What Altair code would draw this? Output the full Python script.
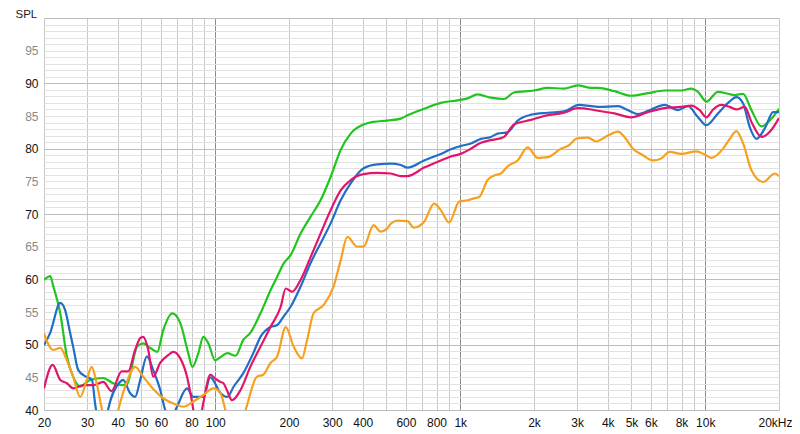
import altair as alt
import pandas as pd

# ---- data ----
green_f = [20, 21.2, 21.8, 23.3, 24.8, 26.3, 28.1, 30.8, 34.9, 38.3, 42.1, 43.7, 48, 50.8, 54.3, 58,
           61.3, 66.8, 72, 77.6, 80.6, 85.3, 89.4, 93.7, 100, 105, 112, 121, 130, 139, 153, 168, 179,
           190, 203, 223, 245, 269, 296, 325, 357, 403, 443, 504, 572, 609, 712, 833, 975, 1071, 1177,
           1334, 1508, 1657, 2000, 2276, 2652, 3018, 3422, 3644, 4260, 4985, 5834, 6824, 7984, 8772,
           9344, 10104, 11278, 12398, 13192, 14278, 15436, 16958, 18634, 20000]
green_v = [59.9, 60.5, 59.0, 54.8, 48.2, 45.1, 43.6, 44.6, 44.9, 44.1, 43.8, 44.0, 49.7, 50.2, 49.5, 48.9,
           52.2, 54.8, 53.3, 48.7, 46.6, 48.7, 51.2, 50.2, 47.6, 48.1, 48.7, 48.3, 50.7, 51.8, 54.8, 58.3, 60.4,
           62.4, 63.7, 67.0, 69.6, 72.1, 75.7, 79.8, 82.3, 83.7, 84.1, 84.3, 84.6, 85.1, 86.1, 87.0, 87.4, 87.7, 88.3,
           87.8, 87.6, 88.6, 88.9, 89.3, 89.2, 89.7, 89.3, 89.3, 88.8, 88.1, 88.5, 88.9, 88.9, 89.2,
           88.7, 87.2, 88.7, 88.4, 88.2, 88.4, 85.9, 83.4, 84.6, 86.1]

blue_f = [20, 21.2, 23.3, 24.4, 25.5, 26.3, 27.6, 29.4, 31.4, 32.3, 33.3, 35, 36.5, 40.9, 42.1, 44.9, 47.1,
          49.4, 52.6, 55.8, 59.6, 62.5, 65.5, 69.8, 76.7, 81.4, 89.4, 95.5, 105, 112, 119, 130, 143, 153,
          168, 179, 190, 203, 223, 245, 269, 296, 325, 357, 403, 459, 520, 572, 609, 712, 833, 915, 1005,
          1105, 1214, 1334, 1421, 1561, 1715, 1944, 2276, 2652, 3055, 3422, 3644, 4398, 4832, 5310, 6020,
          6824, 7740, 8504, 9344, 10104, 11278, 12398, 13406, 14278, 15192, 16182, 17494, 18936, 20000]
blue_v = [49.9, 51.8, 56.4, 55.3, 52.0, 49.7, 46.1, 45.2, 44.6, 41.1, 38.0, 36.0, 40.0, 44.3, 44.6, 42.6, 42.0,
          44.6, 48.2, 46.1, 43.1, 40.0, 38.5, 40.5, 43.3, 42.0, 42.0, 45.0, 42.6, 42.0, 43.6, 45.6, 48.7, 51.2,
          52.7, 53.0, 54.3, 55.8, 58.9, 62.5, 65.5, 68.6, 72.1, 74.7, 77.0, 77.6, 77.7, 77.5, 77.1, 78.2, 79.2, 79.9, 80.4,
          80.8, 81.5, 81.8, 82.3, 82.5, 84.3, 85.2, 85.5, 85.7, 86.7, 86.5, 86.4, 86.5, 85.9, 85.3, 86.0,
          86.7, 85.9, 86.5, 84.8, 83.6, 85.4, 87.0, 87.9, 86.9, 83.3, 81.5, 83.1, 85.6, 85.6]

red_f = [20, 21.7, 23.3, 24.8, 26.3, 29.0, 31.8, 34.9, 37.7, 41.5, 44.1, 47.1, 49.4, 50.8, 53.3, 55.8, 59.6,
         64.3, 67.4, 72, 76.7, 80.2, 82.9, 86, 89.4, 95.5, 100, 105, 108, 112, 117, 127, 139, 153, 168, 185,
         194, 206, 223, 245, 269, 296, 325, 357, 403, 459, 520, 572, 609, 712, 833, 915, 1005, 1105, 1214,
         1334, 1508, 1657, 1944, 2198, 2652, 3018, 3422, 3644, 4260, 4985, 5834, 6824, 7984, 8772, 9488,
         10104, 10764, 11640, 12586, 13406, 14492, 15436, 16958, 18340, 20000]
red_v = [43.3, 46.9, 44.6, 44.1, 43.3, 43.8, 43.8, 44.3, 42.9, 45.9, 45.9, 49.2, 51.0, 51.2, 49.2, 45.1, 47.2,
         48.4, 48.9, 47.9, 45.1, 41.5, 38.5, 38.0, 41.1, 45.4, 44.8, 44.3, 44.1, 42.9, 41.5, 43.1, 46.6, 49.7, 52.7, 55.8,
         58.6, 58.1, 59.9, 63.4, 67.0, 70.6, 73.6, 75.2, 76.1, 76.3, 76.2, 75.8, 75.8, 77.1, 78.2, 78.8, 79.2, 80.0, 80.9,
         81.3, 81.8, 83.7, 84.4, 85.0, 85.5, 86.2, 86.0, 85.8, 85.4, 84.8, 85.6, 86.2, 86.4, 86.6, 85.9,
         84.8, 86.0, 86.7, 86.4, 86.0, 86.4, 84.1, 81.8, 82.6, 84.7]

orange_f = [20, 21.8, 23.3, 24.8, 26.3, 28.1, 29.9, 31.3, 32.8, 34.5, 36, 39, 40.2, 43.4, 47.1, 50.8, 56.2,
            61.3, 67.4, 74, 81.4, 89.4, 98.2, 105, 110, 115, 125, 133, 148, 157, 168, 179, 194, 209, 226,
            237, 252, 277, 304, 325, 346, 380, 403, 443, 473, 504, 520, 554, 609, 646, 712, 782, 833, 901,
            990, 1071, 1140, 1195, 1293, 1376, 1466, 1561, 1715, 1885, 2070, 2276, 2578, 2746, 3018, 3316,
            3586, 4004, 4398, 4680, 5066, 5566, 6118, 6614, 7152, 7984, 9196, 9944, 10592, 11828, 12586,
            13406, 14278, 15436, 17232, 19222, 20000]
orange_v = [51.7, 49.2, 49.5, 47.6, 45.1, 42.0, 44.6, 46.6, 44.1, 40.0, 37.0, 38.0, 40.0, 44.1, 46.6, 45.1, 43.1,
            41.8, 41.0, 40.5, 41.3, 42.3, 43.3, 42.6, 40.0, 37.5, 37.0, 40.0, 45.1, 45.4, 47.2, 48.2, 52.7, 49.7, 47.9,
            50.7, 54.8, 56.1, 58.9, 62.9, 66.5, 65.0, 65.0, 68.3, 67.3, 67.8, 68.5, 69.0, 68.9, 67.9, 68.8, 71.6, 70.6, 68.7,
            71.9, 72.1, 72.4, 72.6, 75.2, 75.9, 76.2, 77.3, 78.2, 80.2, 78.6, 78.7, 80.0, 80.4, 81.6, 81.7,
            81.1, 82.0, 82.6, 81.8, 80.0, 79.0, 78.2, 78.5, 79.5, 79.2, 79.6, 79.1, 78.6, 80.0, 81.5,
            82.7, 80.8, 76.7, 74.9, 76.2, 75.8]

series = ["green", "blue", "red", "orange"]
colors = ["#22c41f", "#1f6fc6", "#e3156b", "#f6a11e"]

x_grid = [20, 30, 40, 50, 60, 70, 80, 90, 100, 200, 300, 400, 500, 600, 700, 800, 900,
          1000, 2000, 3000, 4000, 5000, 6000, 7000, 8000, 9000, 10000, 20000]
x_labels = {20: "20", 30: "30", 40: "40", 50: "50", 60: "60", 80: "80", 100: "100", 200: "200",
            300: "300", 400: "400", 600: "600", 800: "800", 1000: "1k", 2000: "2k", 3000: "3k",
            4000: "4k", 5000: "5k", 6000: "6k", 8000: "8k", 10000: "10k", 20000: "20kHz"}
y_grid = list(range(40, 101))

rows = []
for name, fs, vs in [("green", green_f, green_v), ("blue", blue_f, blue_v),
                     ("red", red_f, red_v), ("orange", orange_f, orange_v)]:
    for i, (f, v) in enumerate(zip(fs, vs)):
        rows.append({"series": name, "f": f, "spl": v, "i": i})
df = pd.DataFrame(rows)

label_expr = "{" + ",".join(f"'{k}':'{v}'" for k, v in x_labels.items()) + "}[datum.value] || ''"

x_axis = alt.Axis(
    values=x_grid, labelExpr=label_expr, title=None, tickSize=0, domain=False,
    labelPadding=7, labelFontSize=12, labelColor="#111", labelFont="Liberation Sans",
    labelFlush=False, labelOverlap=False,
    labelAlign={"condition": {"test": "datum.value === 20000", "value": "right"}, "value": "center"},
    labelOffset={"condition": {"test": "datum.value === 20000", "value": 13}, "value": 0},
    gridColor={"condition": {"test": "indexof([100,1000,10000], datum.value) >= 0", "value": "#8c8c8c"},
               "value": "#c8c8c8"},
    gridWidth=1,
)
y_axis = alt.Axis(
    values=y_grid,
    labelExpr="(datum.value % 5 === 0 && datum.value < 100) ? datum.value : ''",
    tickSize=0, domain=False, labelPadding=6, labelFontSize=12, labelFont="Liberation Sans",
    labelColor={"condition": {"test": "datum.value % 10 === 0", "value": "#111"}, "value": "#8a8a8a"},
    gridColor={"condition": {"test": "datum.value % 10 === 0", "value": "#bdbdbd"}, "value": "#e2e2e2"},
    labelOverlap=False,
    title="SPL", titleAngle=0, titleX=-29, titleY=-1, titleAlign="left", titleBaseline="alphabetic",
    titleFontSize=11.5, titleFontWeight="normal", titleFont="Liberation Sans", titleColor="#222",
)

chart = alt.Chart(df).mark_line(clip=True, strokeWidth=2.2, interpolate="monotone").encode(
    x=alt.X("f:Q", scale=alt.Scale(type="log", domain=[20, 20000], nice=False), axis=x_axis),
    y=alt.Y("spl:Q", scale=alt.Scale(domain=[40, 100], nice=False, zero=False), axis=y_axis),
    color=alt.Color("series:N", scale=alt.Scale(domain=series, range=colors), legend=None),
    order="i:Q",
).properties(
    width=735, height=392,
    autosize=alt.AutoSizeParams(type="none"),
    padding={"left": 36, "top": 10, "right": 13, "bottom": 20},
).configure_view(
    stroke="#a8a8a8", strokeWidth=2
).configure(background="white")

chart.save("out.html", embed_options={"renderer": "svg", "actions": False})
